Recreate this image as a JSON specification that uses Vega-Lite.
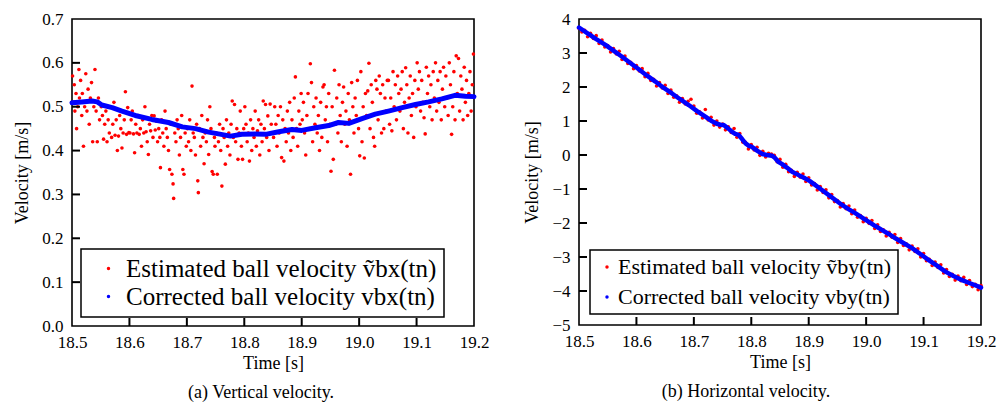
{
"$schema": "https://vega.github.io/schema/vega-lite/v6.json",
"padding": {"left": 12, "top": 9, "right": 5, "bottom": 5},
"background": "white",
"config": {
 "view": {"stroke": "black", "strokeWidth": 1.6},
 "axis": {"labelFont": "Liberation Serif", "labelFontSize": 17, "labelColor": "black", "titleFont": "Liberation Serif", "titleFontSize": 18, "titleFontWeight": "normal", "titleColor": "black", "ticks": false, "domain": false, "grid": false, "labelFlush": false, "labelOverlap": false, "zindex": 1},
 "axisX": {"labelPadding": 8, "titlePadding": 4},
 "axisY": {"labelPadding": 9, "titlePadding": 10},
 "legend": {"strokeColor": "black", "strokeWidth": 1.5, "fillColor": "white", "labelFont": "Liberation Serif", "labelColor": "black", "labelLimit": 500, "symbolType": "circle", "symbolSize": 12, "symbolStrokeWidth": 0}
},
"datasets": {
 "xt": [{"t":18.6},{"t":18.7},{"t":18.8},{"t":18.9},{"t":19.0},{"t":19.1}],
 "yta": [{"v":0.1},{"v":0.2},{"v":0.3},{"v":0.4},{"v":0.5},{"v":0.6}],
 "ytb": [{"v":-4},{"v":-3},{"v":-2},{"v":-1},{"v":0},{"v":1},{"v":2},{"v":3}],
 "ra": [
{"t":18.501,"v":0.57},{"t":18.502,"v":0.51},{"t":18.504,"v":0.55},{"t":18.505,"v":0.49},{"t":18.507,"v":0.53},{"t":18.508,"v":0.45},{"t":18.51,"v":0.5},{"t":18.512,"v":0.585},{"t":18.513,"v":0.52},{"t":18.515,"v":0.56},{"t":18.517,"v":0.48},{"t":18.518,"v":0.53},{"t":18.52,"v":0.41},{"t":18.522,"v":0.5},{"t":18.524,"v":0.575},{"t":18.526,"v":0.49},{"t":18.528,"v":0.54},{"t":18.53,"v":0.46},{"t":18.532,"v":0.52},{"t":18.534,"v":0.555},{"t":18.536,"v":0.42},{"t":18.538,"v":0.5},{"t":18.54,"v":0.585},{"t":18.542,"v":0.49},{"t":18.544,"v":0.42},{"t":18.546,"v":0.52},{"t":18.548,"v":0.47},
{"t":18.551,"v":0.5},{"t":18.553,"v":0.48},{"t":18.555,"v":0.426},{"t":18.557,"v":0.46},{"t":18.559,"v":0.49},{"t":18.561,"v":0.42},{"t":18.563,"v":0.47},{"t":18.565,"v":0.44},{"t":18.567,"v":0.5},{"t":18.569,"v":0.43},{"t":18.571,"v":0.46},{"t":18.573,"v":0.51},{"t":18.575,"v":0.435},{"t":18.577,"v":0.47},{"t":18.579,"v":0.4},{"t":18.581,"v":0.433},{"t":18.583,"v":0.48},{"t":18.585,"v":0.45},{"t":18.587,"v":0.406},{"t":18.589,"v":0.44},{"t":18.591,"v":0.47},{"t":18.593,"v":0.534},{"t":18.595,"v":0.437},{"t":18.597,"v":0.498},{"t":18.599,"v":0.441},
{"t":18.601,"v":0.44},{"t":18.603,"v":0.47},{"t":18.605,"v":0.49},{"t":18.607,"v":0.438},{"t":18.609,"v":0.395},{"t":18.611,"v":0.46},{"t":18.613,"v":0.44},{"t":18.615,"v":0.48},{"t":18.617,"v":0.437},{"t":18.619,"v":0.45},{"t":18.621,"v":0.41},{"t":18.623,"v":0.47},{"t":18.625,"v":0.44},{"t":18.627,"v":0.5},{"t":18.629,"v":0.443},{"t":18.631,"v":0.42},{"t":18.633,"v":0.391},{"t":18.635,"v":0.46},{"t":18.637,"v":0.445},{"t":18.639,"v":0.48},{"t":18.641,"v":0.43},{"t":18.643,"v":0.479},{"t":18.645,"v":0.447},{"t":18.647,"v":0.467},{"t":18.649,"v":0.42},
{"t":18.651,"v":0.45},{"t":18.653,"v":0.43},{"t":18.654,"v":0.361},{"t":18.656,"v":0.47},{"t":18.658,"v":0.44},{"t":18.66,"v":0.41},{"t":18.662,"v":0.49},{"t":18.664,"v":0.45},{"t":18.666,"v":0.43},{"t":18.668,"v":0.4},{"t":18.67,"v":0.357},{"t":18.672,"v":0.46},{"t":18.674,"v":0.346},{"t":18.676,"v":0.324},{"t":18.677,"v":0.291},{"t":18.679,"v":0.44},{"t":18.681,"v":0.42},{"t":18.683,"v":0.47},{"t":18.685,"v":0.45},{"t":18.687,"v":0.39},{"t":18.689,"v":0.43},{"t":18.691,"v":0.48},{"t":18.693,"v":0.357},{"t":18.695,"v":0.346},{"t":18.697,"v":0.44},{"t":18.699,"v":0.41},
{"t":18.701,"v":0.45},{"t":18.703,"v":0.42},{"t":18.705,"v":0.47},{"t":18.707,"v":0.4},{"t":18.709,"v":0.547},{"t":18.711,"v":0.44},{"t":18.713,"v":0.43},{"t":18.715,"v":0.39},{"t":18.717,"v":0.46},{"t":18.719,"v":0.331},{"t":18.72,"v":0.304},{"t":18.722,"v":0.45},{"t":18.724,"v":0.41},{"t":18.726,"v":0.48},{"t":18.728,"v":0.43},{"t":18.73,"v":0.37},{"t":18.732,"v":0.44},{"t":18.734,"v":0.42},{"t":18.736,"v":0.47},{"t":18.738,"v":0.391},{"t":18.74,"v":0.5},{"t":18.742,"v":0.45},{"t":18.744,"v":0.352},{"t":18.746,"v":0.346},{"t":18.748,"v":0.43},{"t":18.749,"v":0.41},
{"t":18.751,"v":0.44},{"t":18.753,"v":0.346},{"t":18.755,"v":0.42},{"t":18.757,"v":0.46},{"t":18.759,"v":0.4},{"t":18.761,"v":0.319},{"t":18.763,"v":0.45},{"t":18.765,"v":0.43},{"t":18.767,"v":0.369},{"t":18.769,"v":0.47},{"t":18.771,"v":0.41},{"t":18.773,"v":0.44},{"t":18.775,"v":0.39},{"t":18.777,"v":0.46},{"t":18.779,"v":0.513},{"t":18.781,"v":0.43},{"t":18.783,"v":0.505},{"t":18.785,"v":0.42},{"t":18.787,"v":0.45},{"t":18.789,"v":0.38},{"t":18.791,"v":0.44},{"t":18.793,"v":0.49},{"t":18.795,"v":0.41},{"t":18.797,"v":0.38},{"t":18.799,"v":0.45},
{"t":18.801,"v":0.5},{"t":18.803,"v":0.46},{"t":18.805,"v":0.42},{"t":18.807,"v":0.44},{"t":18.809,"v":0.376},{"t":18.811,"v":0.47},{"t":18.813,"v":0.4},{"t":18.815,"v":0.45},{"t":18.817,"v":0.43},{"t":18.819,"v":0.49},{"t":18.821,"v":0.41},{"t":18.823,"v":0.445},{"t":18.825,"v":0.47},{"t":18.827,"v":0.39},{"t":18.829,"v":0.46},{"t":18.831,"v":0.42},{"t":18.833,"v":0.513},{"t":18.835,"v":0.45},{"t":18.837,"v":0.505},{"t":18.839,"v":0.43},{"t":18.841,"v":0.479},{"t":18.843,"v":0.4},{"t":18.845,"v":0.506},{"t":18.847,"v":0.46},{"t":18.849,"v":0.44},
{"t":18.851,"v":0.43},{"t":18.853,"v":0.5},{"t":18.855,"v":0.46},{"t":18.857,"v":0.41},{"t":18.859,"v":0.48},{"t":18.861,"v":0.44},{"t":18.863,"v":0.5},{"t":18.865,"v":0.384},{"t":18.867,"v":0.47},{"t":18.869,"v":0.376},{"t":18.871,"v":0.45},{"t":18.873,"v":0.42},{"t":18.875,"v":0.49},{"t":18.877,"v":0.44},{"t":18.879,"v":0.51},{"t":18.881,"v":0.4},{"t":18.883,"v":0.47},{"t":18.885,"v":0.43},{"t":18.887,"v":0.52},{"t":18.889,"v":0.568},{"t":18.891,"v":0.45},{"t":18.893,"v":0.41},{"t":18.895,"v":0.49},{"t":18.897,"v":0.46},{"t":18.899,"v":0.53},
{"t":18.901,"v":0.47},{"t":18.903,"v":0.51},{"t":18.905,"v":0.44},{"t":18.907,"v":0.39},{"t":18.909,"v":0.48},{"t":18.911,"v":0.53},{"t":18.913,"v":0.45},{"t":18.915,"v":0.598},{"t":18.917,"v":0.555},{"t":18.919,"v":0.42},{"t":18.921,"v":0.5},{"t":18.923,"v":0.46},{"t":18.925,"v":0.52},{"t":18.927,"v":0.44},{"t":18.929,"v":0.48},{"t":18.931,"v":0.4},{"t":18.933,"v":0.51},{"t":18.935,"v":0.43},{"t":18.937,"v":0.545},{"t":18.939,"v":0.55},{"t":18.941,"v":0.47},{"t":18.943,"v":0.5},{"t":18.945,"v":0.42},{"t":18.947,"v":0.53},{"t":18.949,"v":0.46},
{"t":18.951,"v":0.353},{"t":18.953,"v":0.5},{"t":18.955,"v":0.38},{"t":18.957,"v":0.583},{"t":18.959,"v":0.46},{"t":18.961,"v":0.52},{"t":18.963,"v":0.44},{"t":18.965,"v":0.55},{"t":18.967,"v":0.48},{"t":18.969,"v":0.42},{"t":18.971,"v":0.51},{"t":18.973,"v":0.545},{"t":18.975,"v":0.46},{"t":18.977,"v":0.49},{"t":18.979,"v":0.41},{"t":18.981,"v":0.53},{"t":18.983,"v":0.47},{"t":18.985,"v":0.346},{"t":18.987,"v":0.555},{"t":18.989,"v":0.5},{"t":18.991,"v":0.44},{"t":18.993,"v":0.52},{"t":18.995,"v":0.48},{"t":18.997,"v":0.56},{"t":18.999,"v":0.45},
{"t":19.001,"v":0.388},{"t":19.003,"v":0.58},{"t":19.005,"v":0.42},{"t":19.007,"v":0.5},{"t":19.009,"v":0.383},{"t":19.011,"v":0.53},{"t":19.013,"v":0.48},{"t":19.015,"v":0.536},{"t":19.017,"v":0.599},{"t":19.019,"v":0.45},{"t":19.021,"v":0.55},{"t":19.023,"v":0.51},{"t":19.025,"v":0.43},{"t":19.027,"v":0.41},{"t":19.029,"v":0.56},{"t":19.031,"v":0.54},{"t":19.033,"v":0.47},{"t":19.035,"v":0.57},{"t":19.037,"v":0.53},{"t":19.039,"v":0.44},{"t":19.041,"v":0.55},{"t":19.043,"v":0.45},{"t":19.045,"v":0.52},{"t":19.047,"v":0.49},{"t":19.049,"v":0.56},
{"t":19.051,"v":0.56},{"t":19.053,"v":0.46},{"t":19.055,"v":0.52},{"t":19.057,"v":0.445},{"t":19.059,"v":0.58},{"t":19.061,"v":0.5},{"t":19.063,"v":0.55},{"t":19.065,"v":0.47},{"t":19.067,"v":0.57},{"t":19.069,"v":0.53},{"t":19.071,"v":0.49},{"t":19.073,"v":0.54},{"t":19.075,"v":0.58},{"t":19.077,"v":0.45},{"t":19.079,"v":0.51},{"t":19.081,"v":0.589},{"t":19.083,"v":0.55},{"t":19.085,"v":0.44},{"t":19.087,"v":0.52},{"t":19.089,"v":0.57},{"t":19.091,"v":0.48},{"t":19.093,"v":0.53},{"t":19.095,"v":0.43},{"t":19.097,"v":0.56},{"t":19.099,"v":0.5},
{"t":19.101,"v":0.6},{"t":19.103,"v":0.54},{"t":19.105,"v":0.58},{"t":19.107,"v":0.49},{"t":19.109,"v":0.56},{"t":19.111,"v":0.51},{"t":19.113,"v":0.475},{"t":19.115,"v":0.438},{"t":19.117,"v":0.59},{"t":19.119,"v":0.53},{"t":19.121,"v":0.57},{"t":19.123,"v":0.5},{"t":19.125,"v":0.55},{"t":19.127,"v":0.47},{"t":19.129,"v":0.58},{"t":19.131,"v":0.52},{"t":19.133,"v":0.6},{"t":19.135,"v":0.49},{"t":19.137,"v":0.56},{"t":19.139,"v":0.51},{"t":19.141,"v":0.58},{"t":19.143,"v":0.47},{"t":19.145,"v":0.54},{"t":19.147,"v":0.59},{"t":19.149,"v":0.5},
{"t":19.151,"v":0.57},{"t":19.153,"v":0.52},{"t":19.155,"v":0.48},{"t":19.157,"v":0.6},{"t":19.159,"v":0.55},{"t":19.161,"v":0.437},{"t":19.163,"v":0.5},{"t":19.165,"v":0.58},{"t":19.167,"v":0.47},{"t":19.169,"v":0.616},{"t":19.171,"v":0.53},{"t":19.173,"v":0.61},{"t":19.175,"v":0.49},{"t":19.177,"v":0.57},{"t":19.179,"v":0.54},{"t":19.181,"v":0.47},{"t":19.183,"v":0.59},{"t":19.185,"v":0.51},{"t":19.187,"v":0.56},{"t":19.189,"v":0.48},{"t":19.191,"v":0.53},{"t":19.193,"v":0.58},{"t":19.195,"v":0.49},{"t":19.197,"v":0.55},{"t":19.199,"v":0.62}
 ],
 "ba": [
{"t":18.5,"v":0.509},{"t":18.517,"v":0.511},{"t":18.535,"v":0.513},{"t":18.544,"v":0.511},{"t":18.552,"v":0.504},{"t":18.57,"v":0.498},{"t":18.587,"v":0.49},{"t":18.61,"v":0.48},{"t":18.639,"v":0.471},{"t":18.668,"v":0.464},{"t":18.692,"v":0.454},{"t":18.715,"v":0.45},{"t":18.738,"v":0.442},{"t":18.755,"v":0.438},{"t":18.776,"v":0.433},{"t":18.796,"v":0.437},{"t":18.819,"v":0.438},{"t":18.837,"v":0.437},{"t":18.86,"v":0.443},{"t":18.883,"v":0.448},{"t":18.9,"v":0.446},{"t":18.924,"v":0.452},{"t":18.947,"v":0.457},{"t":18.964,"v":0.464},{"t":18.982,"v":0.462},{"t":19.005,"v":0.473},{"t":19.028,"v":0.483},{"t":19.051,"v":0.49},{"t":19.075,"v":0.498},{"t":19.098,"v":0.505},{"t":19.121,"v":0.511},{"t":19.144,"v":0.518},{"t":19.167,"v":0.526},{"t":19.185,"v":0.524},{"t":19.2,"v":0.523}
 ],
 "rb": [
{"t":18.5,"v":3.72},{"t":18.505,"v":3.62},{"t":18.51,"v":3.67},{"t":18.515,"v":3.48},{"t":18.52,"v":3.58},{"t":18.525,"v":3.43},{"t":18.53,"v":3.51},{"t":18.535,"v":3.28},{"t":18.54,"v":3.38},{"t":18.545,"v":3.18},{"t":18.55,"v":3.22},{"t":18.555,"v":3.03},{"t":18.56,"v":3.13},{"t":18.565,"v":2.97},{"t":18.57,"v":3.05},{"t":18.575,"v":2.81},{"t":18.58,"v":2.91},{"t":18.585,"v":2.69},{"t":18.59,"v":2.73},{"t":18.595,"v":2.54},{"t":18.6,"v":2.63},{"t":18.605,"v":2.47},{"t":18.61,"v":2.54},{"t":18.615,"v":2.3},{"t":18.62,"v":2.4},{"t":18.625,"v":2.19},{"t":18.63,"v":2.23},{"t":18.635,"v":2.03},{"t":18.64,"v":2.13},{"t":18.645,"v":1.97},{"t":18.65,"v":2.05},{"t":18.655,"v":1.81},{"t":18.66,"v":1.91},{"t":18.665,"v":1.7},{"t":18.67,"v":1.74},{"t":18.675,"v":1.55},{"t":18.68,"v":1.66},{"t":18.685,"v":1.5},{"t":18.69,"v":1.58},{"t":18.695,"v":1.64},{"t":18.7,"v":1.44},{"t":18.705,"v":1.23},{"t":18.71,"v":1.27},{"t":18.715,"v":1.09},{"t":18.72,"v":1.34},{"t":18.725,"v":1.03},{"t":18.73,"v":1.11},{"t":18.735,"v":0.88},{"t":18.74,"v":1.0},{"t":18.745,"v":0.82},{"t":18.75,"v":0.91},{"t":18.755,"v":0.74},{"t":18.76,"v":0.83},{"t":18.765,"v":0.66},{"t":18.77,"v":0.78},{"t":18.775,"v":0.52},{"t":18.78,"v":0.63},{"t":18.785,"v":0.38},{"t":18.79,"v":0.37},{"t":18.795,"v":0.18},{"t":18.8,"v":0.31},{"t":18.805,"v":0.15},{"t":18.81,"v":0.23},{"t":18.815,"v":-0.01},{"t":18.82,"v":0.11},{"t":18.825,"v":-0.06},{"t":18.83,"v":0.05},{"t":18.835,"v":0.03},{"t":18.84,"v":-0.01},{"t":18.845,"v":-0.2},{"t":18.85,"v":-0.13},{"t":18.855,"v":-0.36},{"t":18.86,"v":-0.27},{"t":18.865,"v":-0.49},{"t":18.87,"v":-0.45},{"t":18.875,"v":-0.63},{"t":18.88,"v":-0.51},{"t":18.885,"v":-0.65},{"t":18.89,"v":-0.56},{"t":18.895,"v":-0.78},{"t":18.9,"v":-0.67},{"t":18.905,"v":-0.88},{"t":18.91,"v":-0.84},{"t":18.915,"v":-1.03},{"t":18.92,"v":-0.93},{"t":18.925,"v":-1.1},{"t":18.93,"v":-1.02},{"t":18.935,"v":-1.26},{"t":18.94,"v":-1.16},{"t":18.945,"v":-1.37},{"t":18.95,"v":-1.34},{"t":18.955,"v":-1.53},{"t":18.96,"v":-1.43},{"t":18.965,"v":-1.58},{"t":18.97,"v":-1.5},{"t":18.975,"v":-1.73},{"t":18.98,"v":-1.62},{"t":18.985,"v":-1.83},{"t":18.99,"v":-1.78},{"t":18.995,"v":-1.96},{"t":19.0,"v":-1.86},{"t":19.005,"v":-2.01},{"t":19.01,"v":-1.93},{"t":19.015,"v":-2.16},{"t":19.02,"v":-2.05},{"t":19.025,"v":-2.25},{"t":19.03,"v":-2.2},{"t":19.035,"v":-2.38},{"t":19.04,"v":-2.27},{"t":19.045,"v":-2.42},{"t":19.05,"v":-2.34},{"t":19.055,"v":-2.57},{"t":19.06,"v":-2.46},{"t":19.065,"v":-2.66},{"t":19.07,"v":-2.61},{"t":19.075,"v":-2.79},{"t":19.08,"v":-2.68},{"t":19.085,"v":-2.84},{"t":19.09,"v":-2.76},{"t":19.095,"v":-3.0},{"t":19.1,"v":-2.9},{"t":19.105,"v":-3.11},{"t":19.11,"v":-3.07},{"t":19.115,"v":-3.25},{"t":19.12,"v":-3.15},{"t":19.125,"v":-3.31},{"t":19.13,"v":-3.23},{"t":19.135,"v":-3.47},{"t":19.14,"v":-3.37},{"t":19.145,"v":-3.57},{"t":19.15,"v":-3.51},{"t":19.155,"v":-3.68},{"t":19.16,"v":-3.56},{"t":19.165,"v":-3.7},{"t":19.17,"v":-3.6},{"t":19.175,"v":-3.81},{"t":19.18,"v":-3.69},{"t":19.185,"v":-3.87},{"t":19.19,"v":-3.8},{"t":19.195,"v":-3.96},{"t":19.2,"v":-3.84}
 ],
 "bb": [
{"t":18.5,"v":3.75},{"t":18.515,"v":3.58},{"t":18.53,"v":3.41},{"t":18.546,"v":3.24},{"t":18.56,"v":3.07},{"t":18.575,"v":2.89},{"t":18.59,"v":2.7},{"t":18.604,"v":2.52},{"t":18.618,"v":2.34},{"t":18.633,"v":2.16},{"t":18.647,"v":1.98},{"t":18.662,"v":1.81},{"t":18.676,"v":1.64},{"t":18.691,"v":1.47},{"t":18.705,"v":1.3},{"t":18.72,"v":1.13},{"t":18.73,"v":1.01},{"t":18.74,"v":0.92},{"t":18.746,"v":0.89},{"t":18.752,"v":0.88},{"t":18.759,"v":0.79},{"t":18.766,"v":0.69},{"t":18.772,"v":0.62},{"t":18.778,"v":0.59},{"t":18.784,"v":0.47},{"t":18.79,"v":0.34},{"t":18.796,"v":0.27},{"t":18.801,"v":0.24},{"t":18.81,"v":0.13},{"t":18.819,"v":0.03},{"t":18.827,"v":0.0},{"t":18.836,"v":-0.02},{"t":18.841,"v":-0.08},{"t":18.847,"v":-0.2},{"t":18.853,"v":-0.26},{"t":18.862,"v":-0.37},{"t":18.871,"v":-0.49},{"t":18.88,"v":-0.57},{"t":18.888,"v":-0.64},{"t":18.893,"v":-0.68},{"t":18.902,"v":-0.77},{"t":18.911,"v":-0.88},{"t":18.923,"v":-1.03},{"t":18.935,"v":-1.18},{"t":18.947,"v":-1.33},{"t":18.958,"v":-1.47},{"t":18.97,"v":-1.6},{"t":18.981,"v":-1.71},{"t":18.993,"v":-1.84},{"t":19.004,"v":-1.96},{"t":19.016,"v":-2.09},{"t":19.028,"v":-2.21},{"t":19.04,"v":-2.33},{"t":19.051,"v":-2.45},{"t":19.065,"v":-2.59},{"t":19.08,"v":-2.74},{"t":19.095,"v":-2.92},{"t":19.109,"v":-3.09},{"t":19.124,"v":-3.26},{"t":19.138,"v":-3.43},{"t":19.152,"v":-3.56},{"t":19.167,"v":-3.68},{"t":19.182,"v":-3.78},{"t":19.196,"v":-3.87},{"t":19.2,"v":-3.9}
 ]
},
"hconcat": [
 {
  "width": 402, "height": 307,
  "title": {"text": "(a) Vertical velocity.", "orient": "bottom", "font": "Liberation Serif", "fontSize": 18, "fontWeight": "normal", "color": "black", "frame": "group", "anchor": "middle", "dx": -12, "offset": 12},
  "layer": [
   {"data": {"name": "ra"},
    "mark": {"type": "point", "filled": true, "size": 13, "opacity": 1, "strokeWidth": 0},
    "encoding": {
     "x": {"field": "t", "type": "quantitative", "scale": {"domain": [18.5, 19.2], "nice": false, "zero": false}, "axis": {"title": "Time [s]", "values": [18.5, 18.6, 18.7, 18.8, 18.9, 19.0, 19.1, 19.2], "format": ".1f", "labelOverlap": false, "tickCount": 8}},
     "y": {"field": "v", "type": "quantitative", "scale": {"domain": [0, 0.7], "nice": false}, "axis": {"title": "Velocity [m/s]", "values": [0, 0.1, 0.2, 0.3, 0.4, 0.5, 0.6, 0.7], "format": ".1f", "labelOverlap": false, "tickCount": 8}},
     "color": {"datum": "Estimated ball velocity ṽbx(tn)", "type": "nominal",
      "scale": {"domain": ["Estimated ball velocity ṽbx(tn)", "Corrected ball velocity vbx(tn)"], "range": ["#ff0000", "#0000ff"]},
      "legend": {"orient": "bottom-left", "offset": 9, "title": null, "padding": 7, "labelFontSize": 25, "rowPadding": 2, "symbolOffset": 8, "labelOffset": 5}}
    }},
   {"data": {"name": "ba"},
    "mark": {"type": "line", "color": "#0000ff", "strokeWidth": 5, "strokeJoin": "round", "strokeCap": "round"},
    "encoding": {"x": {"field": "t", "type": "quantitative"}, "y": {"field": "v", "type": "quantitative"}}},
   {"data": {"name": "xt"},
    "mark": {"type": "rule", "color": "black", "strokeWidth": 2},
    "encoding": {"x": {"field": "t", "type": "quantitative"}, "y": {"datum": 0}, "y2": {"datum": 0.0182}}},
   {"data": {"name": "yta"},
    "mark": {"type": "rule", "color": "black", "strokeWidth": 2},
    "encoding": {"y": {"field": "v", "type": "quantitative"}, "x": {"datum": 18.5}, "x2": {"datum": 18.5139}}}
  ]
 },
 {
  "width": 402, "height": 306,
  "title": {"text": "(b) Horizontal velocity.", "orient": "bottom", "font": "Liberation Serif", "fontSize": 18, "fontWeight": "normal", "color": "black", "frame": "group", "anchor": "middle", "dx": -34, "offset": 12},
  "layer": [
   {"data": {"name": "rb"},
    "mark": {"type": "point", "filled": true, "size": 13, "opacity": 1, "strokeWidth": 0},
    "encoding": {
     "x": {"field": "t", "type": "quantitative", "scale": {"domain": [18.5, 19.2], "nice": false, "zero": false}, "axis": {"title": "Time [s]", "values": [18.5, 18.6, 18.7, 18.8, 18.9, 19.0, 19.1, 19.2], "format": ".1f", "labelOverlap": false, "tickCount": 8}},
     "y": {"field": "v", "type": "quantitative", "scale": {"domain": [-5, 4], "nice": false}, "axis": {"title": "Velocity [m/s]", "values": [-5, -4, -3, -2, -1, 0, 1, 2, 3, 4], "format": "d", "labelOverlap": false, "tickCount": 10}},
     "color": {"datum": "Estimated ball velocity ṽby(tn)", "type": "nominal",
      "scale": {"domain": ["Estimated ball velocity ṽby(tn)", "Corrected ball velocity vby(tn)"], "range": ["#ff0000", "#0000ff"]},
      "legend": {"orient": "bottom-left", "offset": 11, "title": null, "padding": 6, "labelFontSize": 22, "rowPadding": 8, "symbolOffset": 0, "labelOffset": 0}}
    }},
   {"data": {"name": "bb"},
    "mark": {"type": "line", "color": "#0000ff", "strokeWidth": 4.5, "strokeJoin": "round", "strokeCap": "round"},
    "encoding": {"x": {"field": "t", "type": "quantitative"}, "y": {"field": "v", "type": "quantitative"}}},
   {"data": {"name": "xt"},
    "mark": {"type": "rule", "color": "black", "strokeWidth": 2},
    "encoding": {"x": {"field": "t", "type": "quantitative"}, "y": {"datum": -5}, "y2": {"datum": -4.765}}},
   {"data": {"name": "ytb"},
    "mark": {"type": "rule", "color": "black", "strokeWidth": 2},
    "encoding": {"y": {"field": "v", "type": "quantitative"}, "x": {"datum": 18.5}, "x2": {"datum": 18.5139}}}
  ]
 }
],
"bounds": "flush",
"spacing": 105,
"resolve": {"scale": {"color": "independent"}, "legend": {"color": "independent"}}
}
